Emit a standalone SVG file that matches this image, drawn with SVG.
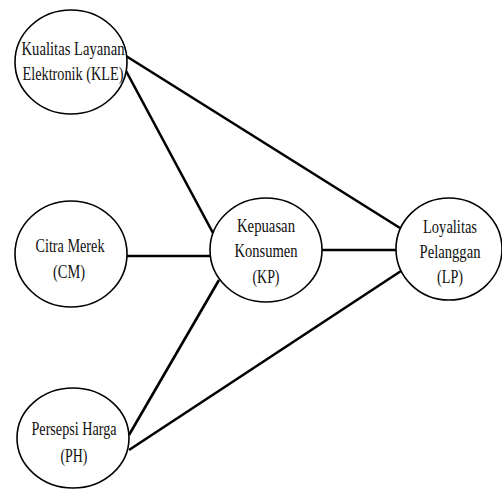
<svg xmlns="http://www.w3.org/2000/svg" width="502" height="490" viewBox="0 0 502 490">
<style>
.n{fill:#fff;stroke:#000;stroke-width:1.6}
.t{font-family:"Liberation Serif","Times New Roman",serif;font-size:19px;fill:#111;text-anchor:middle}
.c{stroke:#000;stroke-width:2.6;fill:none}
</style>
<rect width="502" height="490" fill="#fff"/>
<g id="connectors">
<line class="c" x1="126" y1="56" x2="400" y2="228"/>
<line class="c" x1="125" y1="69" x2="213" y2="233"/>
<line class="c" x1="127" y1="256" x2="211" y2="256"/>
<line class="c" x1="322" y1="250" x2="397" y2="250"/>
<line class="c" x1="129" y1="435" x2="219" y2="280"/>
<line class="c" x1="129" y1="450" x2="401" y2="271"/>
</g>
<g id="KLE">
<ellipse class="n" cx="71" cy="62" rx="56" ry="52"/>
<text class="t" x="73" y="55" textLength="103" lengthAdjust="spacingAndGlyphs">Kualitas Layanan</text>
<text class="t" x="73" y="80" textLength="101" lengthAdjust="spacingAndGlyphs">Elektronik (KLE)</text>
</g>
<g id="CM">
<ellipse class="n" cx="71" cy="254" rx="56" ry="53"/>
<text class="t" x="70" y="252" textLength="69" lengthAdjust="spacingAndGlyphs">Citra Merek</text>
<text class="t" x="69" y="278" textLength="32" lengthAdjust="spacingAndGlyphs">(CM)</text>
</g>
<g id="KP">
<ellipse class="n" cx="266" cy="250" rx="56" ry="52"/>
<text class="t" x="266" y="232" textLength="58" lengthAdjust="spacingAndGlyphs">Kepuasan</text>
<text class="t" x="266" y="257" textLength="63" lengthAdjust="spacingAndGlyphs">Konsumen</text>
<text class="t" x="266" y="283" textLength="27" lengthAdjust="spacingAndGlyphs">(KP)</text>
</g>
<g id="LP">
<ellipse class="n" cx="449" cy="249" rx="53" ry="51"/>
<text class="t" x="450" y="233" textLength="54" lengthAdjust="spacingAndGlyphs">Loyalitas</text>
<text class="t" x="450" y="258" textLength="61" lengthAdjust="spacingAndGlyphs">Pelanggan</text>
<text class="t" x="450" y="283" textLength="26" lengthAdjust="spacingAndGlyphs">(LP)</text>
</g>
<g id="PH">
<ellipse class="n" cx="73" cy="438" rx="56" ry="50"/>
<text class="t" x="74" y="435" textLength="85" lengthAdjust="spacingAndGlyphs">Persepsi Harga</text>
<text class="t" x="74" y="462" textLength="27" lengthAdjust="spacingAndGlyphs">(PH)</text>
</g>
</svg>
